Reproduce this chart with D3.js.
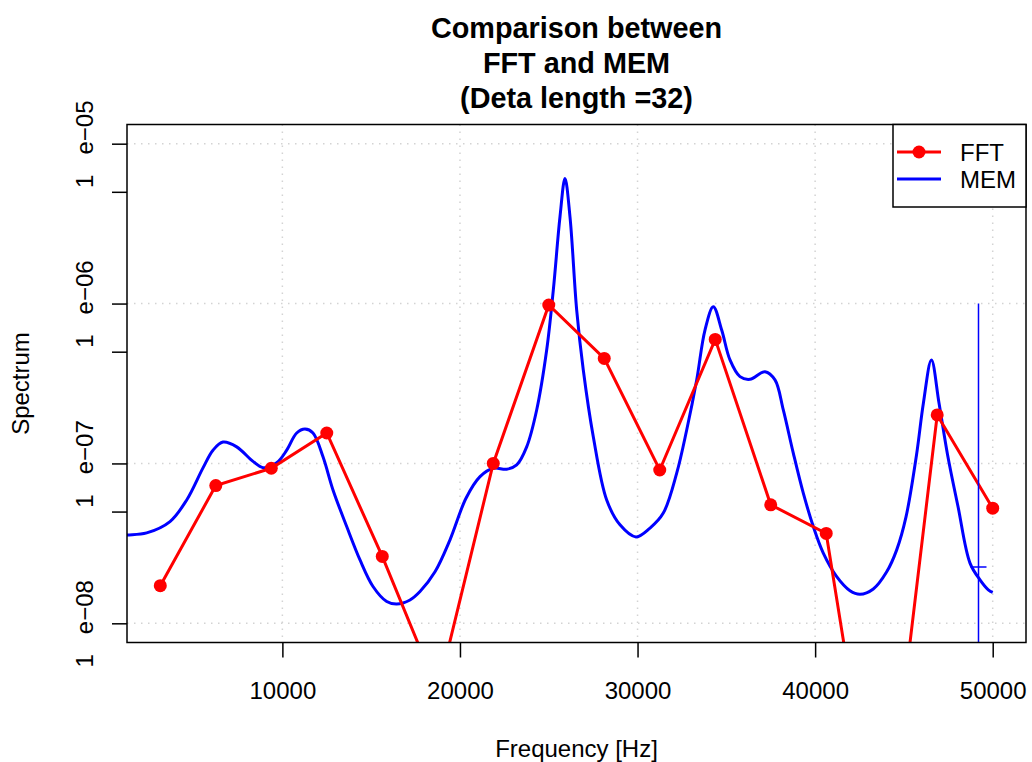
<!DOCTYPE html>
<html>
<head>
<meta charset="utf-8">
<script src="https://cdn.jsdelivr.net/npm/d3@7"></script>
<style>
body { margin: 0; background: #fff; }
svg { display: block; font-family: "Liberation Sans", Arial, sans-serif; }
</style>
</head>
<body>
<svg width="1032" height="762"></svg>
<script>
// FFT spectrum (bins of a 32 point record, fs = 100 kHz)
const fftFreq = [3125, 6250, 9375, 12500, 15625, 18750, 21875, 25000,
	28125, 31250, 34375, 37500, 40625, 43750, 46875, 50000];
const fftSpec = [1.72e-8, 7.27e-8, 9.33e-8, 1.55e-7, 2.62e-8, 3.76e-9, 1.00e-7, 9.79e-7,
	4.54e-7, 9.10e-8, 5.97e-7, 5.51e-8, 3.65e-8, 2.5e-10, 2.01e-7, 5.25e-8];

// MEM spectrum
const memFreq = [0, 1250, 2359, 3671, 4612, 5530, 6093, 6656, 7428, 8345, 8909, 9680,
	10243, 10806, 11274, 11724, 12287, 12850, 13622, 14371, 15103, 15874, 16437, 17186,
	17749, 18594, 19439, 20340, 21129, 21877, 22631, 23194, 23757, 24320, 24883, 25255,
	25633, 25914, 26196, 26573, 26945, 27508, 28263, 29012, 29913, 30701, 31450, 32205,
	32768, 33331, 33798, 34266, 34739, 35206, 35769, 36333, 37177, 37740, 38208, 38771,
	39334, 39897, 40460, 41215, 41964, 42527, 43276, 44031, 44594, 45118, 45709, 46098,
	46548, 46976, 47460, 48046, 48722, 49285, 49752, 50000];
const memSpec = [3.52e-8, 3.57e-8, 3.68e-8, 4.33e-8, 5.91e-8, 9.38e-8, 1.21e-7, 1.36e-7,
	1.27e-7, 1.03e-7, 9.41e-8, 1.01e-7, 1.21e-7, 1.55e-7, 1.64e-7, 1.55e-7, 1.10e-7,
	6.83e-8, 4.03e-8, 2.49e-8, 1.70e-8, 1.37e-8, 1.32e-8, 1.40e-8, 1.58e-8, 2.10e-8,
	3.33e-8, 6.06e-8, 8.27e-8, 9.33e-8, 9.20e-8, 9.79e-8, 1.27e-7, 2.16e-7, 5.12e-7,
	1.21e-6, 3.49e-6, 6.06e-6, 3.49e-6, 9.10e-7, 3.84e-7, 1.47e-7, 5.91e-8, 4.13e-8,
	3.47e-8, 3.94e-8, 4.89e-8, 8.69e-8, 1.62e-7, 3.33e-7, 6.83e-7, 9.55e-7, 6.83e-7,
	4.44e-7, 3.49e-7, 3.36e-7, 3.75e-7, 3.33e-7, 2.16e-7, 1.16e-7, 6.52e-8, 4.03e-8,
	2.75e-8, 1.96e-8, 1.60e-8, 1.52e-8, 1.64e-8, 2.10e-8, 2.88e-8, 4.63e-8, 1.13e-7,
	2.39e-7, 4.44e-7, 2.39e-7, 1.13e-7, 5.38e-8, 2.38e-8, 1.87e-8, 1.62e-8, 1.56e-8];

// blue marker: vertical segment with a cross bar
const markerFreq = [49200];
const markerTop = [1e-6];
const markerBottom = [1e-9];
const markerBar = [2.25e-8];

const xTicks = [10000, 20000, 30000, 40000, 50000];
const yTicks = [1e-5, 5e-6, 1e-6, 5e-7, 1e-7, 5e-8, 1e-8];
const yTickLabels = ["1 e\u221205", "", "1 e\u221206", "", "1 e\u221207", "", "1 e\u221208"];
const titleLines = ["Comparison between", "FFT and MEM", "(Deta length =32)"];

const plotLeft = 127, plotRight = 1026, plotTop = 124.5, plotBottom = 642.5;
const fontSize = 24;

var svg = d3.select("svg");

var x = d3.scaleLinear().domain([1250, 51875]).range([plotLeft, plotRight]);
var y = d3.scaleLog().domain([Math.pow(10, -8.12), Math.pow(10, -4.88)]).range([plotBottom, plotTop]);

svg.append("clipPath").attr("id", "plotclip")
	.append("rect").attr("x", plotLeft).attr("y", plotTop)
	.attr("width", plotRight - plotLeft).attr("height", plotBottom - plotTop);

// grid
var grid = svg.append("g");
grid.selectAll("line.gx").data(xTicks).enter().append("line")
	.attr("x1", d => x(d)).attr("x2", d => x(d))
	.attr("y1", plotTop).attr("y2", plotBottom);
grid.selectAll("line.gy").data(yTicks.filter((d, i) => yTickLabels[i] != "")).enter().append("line")
	.attr("x1", plotLeft).attr("x2", plotRight)
	.attr("y1", d => y(d)).attr("y2", d => y(d));
grid.selectAll("line").style("stroke", "#d3d3d3").style("stroke-width", 1.5)
	.style("stroke-dasharray", "1.5,5.5");

var plot = svg.append("g").attr("clip-path", "url(#plotclip)");

// MEM curve
var memLine = d3.line().x(d => x(d[0])).y(d => y(d[1])).curve(d3.curveCatmullRom);
plot.append("path").datum(d3.zip(memFreq, memSpec))
	.attr("d", memLine)
	.style("fill", "none").style("stroke", "#0000ff").style("stroke-width", 3);

// FFT line + points
var fftLine = d3.line().x(d => x(d[0])).y(d => y(d[1]));
plot.append("path").datum(d3.zip(fftFreq, fftSpec))
	.attr("d", fftLine)
	.style("fill", "none").style("stroke", "#ff0000").style("stroke-width", 3);
plot.selectAll("circle.fft").data(d3.zip(fftFreq, fftSpec)).enter().append("circle")
	.attr("cx", d => x(d[0])).attr("cy", d => y(d[1])).attr("r", 6.5)
	.style("fill", "#ff0000");

// marker
markerFreq.forEach(function(f, i){
	plot.append("line").attr("x1", x(f)).attr("x2", x(f))
		.attr("y1", y(markerTop[i])).attr("y2", y(markerBottom[i]))
		.style("stroke", "#0000ff").style("stroke-width", 1.5);
	plot.append("line").attr("x1", x(f) - 8).attr("x2", x(f) + 8)
		.attr("y1", y(markerBar[i])).attr("y2", y(markerBar[i]))
		.style("stroke", "#0000ff").style("stroke-width", 1.5);
});

// frame
svg.append("rect").attr("x", plotLeft).attr("y", plotTop)
	.attr("width", plotRight - plotLeft).attr("height", plotBottom - plotTop)
	.style("fill", "none").style("stroke", "#000").style("stroke-width", 1.5);

// x axis
var xAxis = svg.append("g").attr("transform", "translate(0," + plotBottom + ")")
	.call(d3.axisBottom(x).tickValues(xTicks).tickSize(15).tickSizeOuter(0).tickFormat(d => d));
xAxis.select(".domain").remove();
xAxis.selectAll(".tick line").style("stroke", "#000").style("stroke-width", 1.5);
xAxis.selectAll(".tick text").attr("y", 56).attr("dy", 0)
	.style("font-size", fontSize + "px").style("fill", "#000");
xAxis.attr("font-family", null).attr("font-size", null);

// y axis
var yAxis = svg.append("g").attr("transform", "translate(" + plotLeft + ",0)")
	.call(d3.axisLeft(y).tickValues(yTicks).tickSize(15).tickSizeOuter(0).tickFormat(() => ""));
yAxis.select(".domain").remove();
yAxis.attr("font-family", null).attr("font-size", null);
yAxis.selectAll(".tick line").style("stroke", "#000").style("stroke-width", 1.5);
yAxis.selectAll(".tick text").remove();
yAxis.selectAll(".tick").each(function(d, i){
	if(yTickLabels[i] == "") return;
	var parts = yTickLabels[i].split(" ");
	var t = d3.select(this).append("text")
		.attr("transform", "rotate(-90)")
		.attr("x", 0).attr("y", -34)
		.attr("text-anchor", "middle")
		.style("font-size", fontSize + "px").style("fill", "#000");
	t.append("tspan").text(parts[0]);
	t.append("tspan").attr("dx", 20).text(parts[1]);
});

// titles
svg.selectAll("text.title").data(titleLines).enter().append("text")
	.attr("x", (plotLeft + plotRight) / 2).attr("y", (d, i) => 38 + i * 35)
	.attr("text-anchor", "middle")
	.style("font-size", "28.8px").style("font-weight", "bold").text(d => d);

svg.append("text").attr("x", (plotLeft + plotRight) / 2).attr("y", 757)
	.attr("text-anchor", "middle").style("font-size", fontSize + "px").text("Frequency [Hz]");

svg.append("text").attr("transform", "translate(29," + (plotTop + plotBottom) / 2 + ") rotate(-90)")
	.attr("text-anchor", "middle").style("font-size", fontSize + "px").text("Spectrum");

// legend
var legend = svg.append("g");
legend.append("rect").attr("x", 893).attr("y", plotTop)
	.attr("width", plotRight - 893).attr("height", 207 - plotTop)
	.style("fill", "#fff").style("stroke", "#000").style("stroke-width", 1.5);
legend.append("line").attr("x1", 897).attr("x2", 941).attr("y1", 152).attr("y2", 152)
	.style("stroke", "#ff0000").style("stroke-width", 3);
legend.append("circle").attr("cx", 919).attr("cy", 152).attr("r", 6.5).style("fill", "#ff0000");
legend.append("line").attr("x1", 897).attr("x2", 941).attr("y1", 179).attr("y2", 179)
	.style("stroke", "#0000ff").style("stroke-width", 3);
legend.append("text").attr("x", 960).attr("y", 161).style("font-size", fontSize + "px").text("FFT");
legend.append("text").attr("x", 960).attr("y", 188).style("font-size", fontSize + "px").text("MEM");
</script>
</body>
</html>
